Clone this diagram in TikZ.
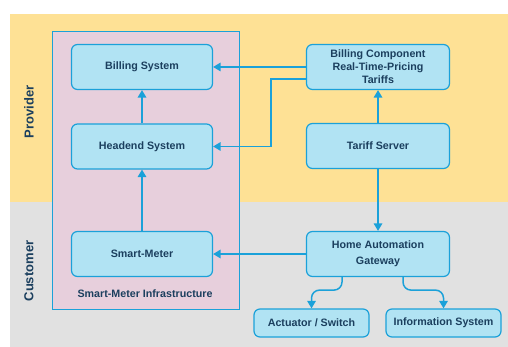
\documentclass[tikz,border=0pt]{standalone}
\usepackage{fontspec}
\setmainfont{Liberation Sans}
\usetikzlibrary{arrows.meta}
\definecolor{provbg}{HTML}{FEE195}
\definecolor{custbg}{HTML}{E1E1E1}
\definecolor{infrabg}{HTML}{E7CFDC}
\definecolor{boxfill}{HTML}{B1E3F3}
\definecolor{boxline}{HTML}{1BA1D9}
\definecolor{txt}{HTML}{1B3F5E}
\tikzset{
    unit/.style = {draw=boxline, fill=boxfill, line width=1.2pt, rounded corners=6pt, align=center, font=\fontsize{10.7}{13}\selectfont\bfseries, text=txt},
    bigunit/.style = {unit, minimum width=141pt, minimum height=45pt},
    smallunit/.style = {unit, minimum width=115pt, minimum height=28pt},
    flow/.style = {draw=boxline, line width=1.5pt, -{Triangle[width=8.5pt, length=7.5pt]}},
    band/.style = {font=\fontsize{13}{15}\selectfont\bfseries, text=txt, rotate=90}
}
\begin{document}
\begin{tikzpicture}[x=1pt, y=-1pt]
        \useasboundingbox (0, 0) rectangle (508, 347);
        % background bands
        \fill[provbg] (10, 14) rectangle (508, 202);
        \fill[custbg] (10, 202) rectangle (508, 347);
        \node[band] (provider) at (29, 112) {Provider};
        \node[band] (customer) at (29, 271) {Customer};
        % smart meter infrastructure frame
        \draw[boxline, fill=infrabg, line width=0.8pt] (52, 31) rectangle (239, 309);
        \node[font=\fontsize{10.7}{13}\selectfont\bfseries, text=txt] (infra) at (145, 294) {Smart-Meter Infrastructure};
        
        % place units
        \node[bigunit] (billing) at (142, 67) {Billing System};
        \node[bigunit] (headend) at (142, 146.5) {Headend System};
        \node[bigunit] (meter) at (142, 254) {Smart-Meter};
        \node[bigunit, minimum width=143pt] (component) at (378, 67) {Billing Component\\Real-Time-Pricing\\Tariffs};
        \node[bigunit, minimum width=143pt] (tariff) at (378, 146) {Tariff Server};
        \node[bigunit, minimum width=143pt, font=\fontsize{10.7}{16}\selectfont\bfseries] (gateway) at (378, 254) {Home Automation\\Gateway};
        \node[smallunit] (actuator) at (311.5, 323) {Actuator / Switch};
        \node[smallunit] (info) at (443.5, 323) {Information System};
        
        % draw provider side flows
        \draw[flow] (headend) -- (billing);
        \draw[flow] (meter) -- (headend);
        \draw[flow] (component.west) -- (billing.east);
        \draw[flow] ([yshift=-12pt]component.west) -- ++(-35, 0) |- (headend.east);
        \draw[flow] (tariff) -- (component);
        % draw customer side flows
        \draw[flow] (tariff) -- (gateway);
        \draw[flow] (gateway.west) -- (meter.east);
        \draw[flow, rounded corners=8pt] ([xshift=-36pt]gateway.south) -- ++(0, 13) -| (actuator.north);
        \draw[flow, rounded corners=8pt] ([xshift=25pt]gateway.south) -- ++(0, 13) -| (info.north);
    \end{tikzpicture}
\end{document}
